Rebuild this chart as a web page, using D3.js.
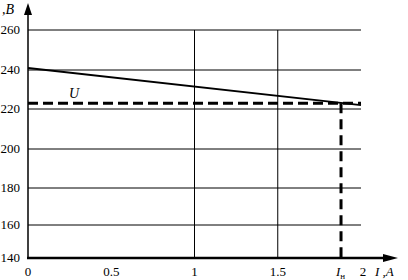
<!DOCTYPE html>
<html>
<head>
<meta charset="utf-8">
<script src="https://cdn.jsdelivr.net/npm/d3@7"></script>
<style>
  body { margin: 0; background: #fff; }
  text { font-family: "Liberation Serif", "DejaVu Serif", serif; fill: #000; }
</style>
</head>
<body>
<svg id="chart" width="408" height="280"></svg>
<script>
// data
var xTicks = [0, 0.5, 1, 1.5, 2];
var xGrid = [1, 1.5];
var yTicks = [140, 160, 180, 200, 220, 240, 260];
var currentI = [0, 2];          // A
var voltageU = [241, 222];      // V
var nominalU = 223;             // dashed level
var nominalI = 1.88;            // I_н

var svg = d3.select("#chart");

var x = d3.scaleLinear().domain([0, 2]).range([28, 361]);
// the scan is slightly uneven, so the y scale follows the gridlines
var y = d3.scaleLinear()
  .domain(yTicks)
  .range([258, 225, 188, 149, 109, 70, 30]);

var g = svg.append("g");

// horizontal gridlines
g.selectAll(".hgrid")
  .data(yTicks.slice(1))
  .enter().append("line")
  .attr("x1", x(0)).attr("x2", x(2))
  .attr("y1", function(d){ return y(d); })
  .attr("y2", function(d){ return y(d); })
  .style("stroke", "#000").style("stroke-width", "1px");

// vertical gridlines
g.selectAll(".vgrid")
  .data(xGrid)
  .enter().append("line")
  .attr("x1", function(d){ return x(d); })
  .attr("x2", function(d){ return x(d); })
  .attr("y1", y(260)).attr("y2", y(140))
  .style("stroke", "#000").style("stroke-width", "1px");

// axes
var x0 = x(0), yb = y(140);
g.append("line")
  .attr("x1", x0).attr("y1", yb)
  .attr("x2", x0).attr("y2", 10)
  .style("stroke", "#000").style("stroke-width", "1.5px");
g.append("line")
  .attr("x1", x0 - 1).attr("y1", yb)
  .attr("x2", 388).attr("y2", yb)
  .style("stroke", "#000").style("stroke-width", "2.5px");

// arrow heads
g.append("path")
  .attr("d", "M" + x0 + ",3 L" + (x0 + 4) + ",15 L" + (x0 - 4) + ",15 Z")
  .attr("fill", "#000");
g.append("path")
  .attr("d", "M398," + yb + " L383," + (yb - 4) + " L383," + (yb + 4) + " Z")
  .attr("fill", "#000");

// tick labels
g.selectAll(".ylab")
  .data(yTicks)
  .enter().append("text")
  .attr("x", 20).attr("y", function(d){ return y(d) + 4; })
  .attr("text-anchor", "end")
  .style("font-size", "13px")
  .text(function(d){ return d; });

g.selectAll(".xlab")
  .data(xTicks)
  .enter().append("text")
  .attr("x", function(d){ return x(d) + (d === 2 ? 2 : 0); })
  .attr("y", 276)
  .attr("text-anchor", "middle")
  .style("font-size", "13px")
  .text(function(d){ return d; });

// U(I) line
var line = d3.line()
  .x(function(d){ return x(d[0]); })
  .y(function(d){ return y(d[1]); });
g.append("path")
  .datum(d3.zip(currentI, voltageU))
  .attr("d", line)
  .style("fill", "none").style("stroke", "#000").style("stroke-width", "1.8px");

// nominal dashed lines
g.append("line")
  .attr("x1", x(0)).attr("x2", x(2))
  .attr("y1", y(nominalU)).attr("y2", y(nominalU))
  .style("stroke", "#000").style("stroke-width", "3px")
  .style("stroke-dasharray", "10,5");
g.append("line")
  .attr("x1", x(nominalI)).attr("x2", x(nominalI))
  .attr("y1", y(nominalU)).attr("y2", y(140))
  .style("stroke", "#000").style("stroke-width", "3px")
  .style("stroke-dasharray", "10,6");

// labels
g.append("text")
  .attr("x", 69).attr("y", 98)
  .style("font-size", "14px").style("font-style", "italic")
  .text("U");

g.append("text")
  .attr("x", 2).attr("y", 14)
  .style("font-size", "14px").style("font-style", "italic")
  .text(",В");

var iN = g.append("text")
  .attr("x", 336).attr("y", 276)
  .style("font-size", "13px").style("font-style", "italic");
iN.append("tspan").text("I");
iN.append("tspan").attr("dy", 3).style("font-size", "9px").style("font-style", "normal").text("н");

g.append("text")
  .attr("x", 375).attr("y", 276)
  .style("font-size", "13px").style("font-style", "italic")
  .text("I ,A");
</script>
</body>
</html>
